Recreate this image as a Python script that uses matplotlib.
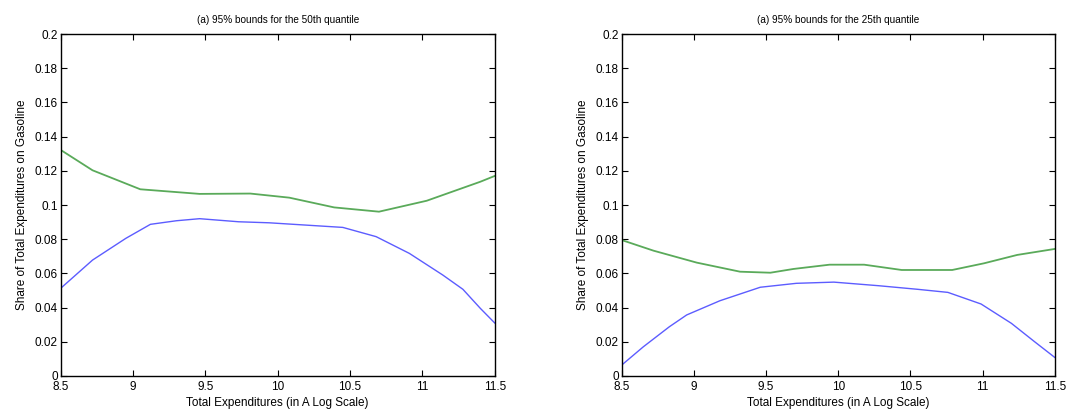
import matplotlib
matplotlib.use("Agg")
import matplotlib.pyplot as plt

plt.rcParams['font.family'] = ['Liberation Sans', 'DejaVu Sans']

# 50th quantile bounds
x50_up = [8.5, 8.72, 9.05, 9.46, 9.81, 10.08, 10.39, 10.70, 11.03, 11.40, 11.5]
y50_up = [0.1322, 0.1203, 0.1092, 0.1065, 0.1067, 0.1043, 0.0986, 0.0961, 0.1025, 0.1136, 0.1170]
x50_lo = [8.5, 8.72, 8.95, 9.12, 9.30, 9.46, 9.73, 9.94, 10.45, 10.68, 10.91, 11.14, 11.28, 11.40, 11.5]
y50_lo = [0.0513, 0.0678, 0.0805, 0.0887, 0.0908, 0.0920, 0.0902, 0.0896, 0.0869, 0.0815, 0.0717, 0.0591, 0.0507, 0.0396, 0.0310]

# 25th quantile bounds
x25_up = [8.5, 8.72, 9.02, 9.32, 9.53, 9.69, 9.94, 10.18, 10.44, 10.79, 11.01, 11.24, 11.5]
y25_up = [0.0795, 0.0733, 0.0663, 0.0610, 0.0604, 0.0626, 0.0651, 0.0651, 0.0620, 0.0620, 0.0659, 0.0708, 0.0743]
x25_lo = [8.5, 8.65, 8.83, 8.95, 9.18, 9.46, 9.71, 9.97, 10.28, 10.55, 10.76, 10.99, 11.2, 11.36, 11.5]
y25_lo = [0.0064, 0.0171, 0.0288, 0.0357, 0.0440, 0.0519, 0.0542, 0.0549, 0.0528, 0.0507, 0.0489, 0.0421, 0.0308, 0.0201, 0.0109]

titles = ['(a) 95% bounds for the 50th quantile', '(a) 95% bounds for the 25th quantile']
xticks = [8.5, 9, 9.5, 10, 10.5, 11, 11.5]
xticklabels = ['8.5', '9', '9.5', '10', '10.5', '11', '11.5']
yticks = [0, 0.02, 0.04, 0.06, 0.08, 0.1, 0.12, 0.14, 0.16, 0.18, 0.2]
yticklabels = ['0', '0.02', '0.04', '0.06', '0.08', '0.1', '0.12', '0.14', '0.16', '0.18', '0.2']

fig = plt.figure(figsize=(10.69, 4.12), dpi=100)
ax1 = fig.add_axes([0.0568, 0.0874, 0.406, 0.830])
ax2 = fig.add_axes([0.5816, 0.0874, 0.405, 0.830])

data = [(x50_up, y50_up, x50_lo, y50_lo), (x25_up, y25_up, x25_lo, y25_lo)]
for ax, (xu, yu, xl, yl), t in zip([ax1, ax2], data, titles):
    ax.plot(xl, yl, color='#5c5cff', lw=1.0)
    ax.plot(xu, yu, color='#5aaa5a', lw=1.3)
    ax.set_xlim(8.5, 11.5)
    ax.set_ylim(0, 0.2)
    ax.set_xticks(xticks)
    ax.set_xticklabels(xticklabels)
    ax.set_yticks(yticks)
    ax.set_yticklabels(yticklabels)
    ax.tick_params(direction='in', top=True, right=True, length=4, width=0.8,
                   labelsize=8.5)
    ax.tick_params(axis='x', pad=3.5)
    ax.tick_params(axis='y', pad=2)
    for s in ax.spines.values():
        s.set_linewidth(1.0)
    ax.set_title(t, fontsize=7.2, pad=8)
    ax.set_xlabel('Total Expenditures (in A Log Scale)', fontsize=8.5, labelpad=3)
    ax.set_ylabel('Share of Total Expenditures on Gasoline', fontsize=8.5, labelpad=5)

fig.savefig('out.png', dpi=100)
